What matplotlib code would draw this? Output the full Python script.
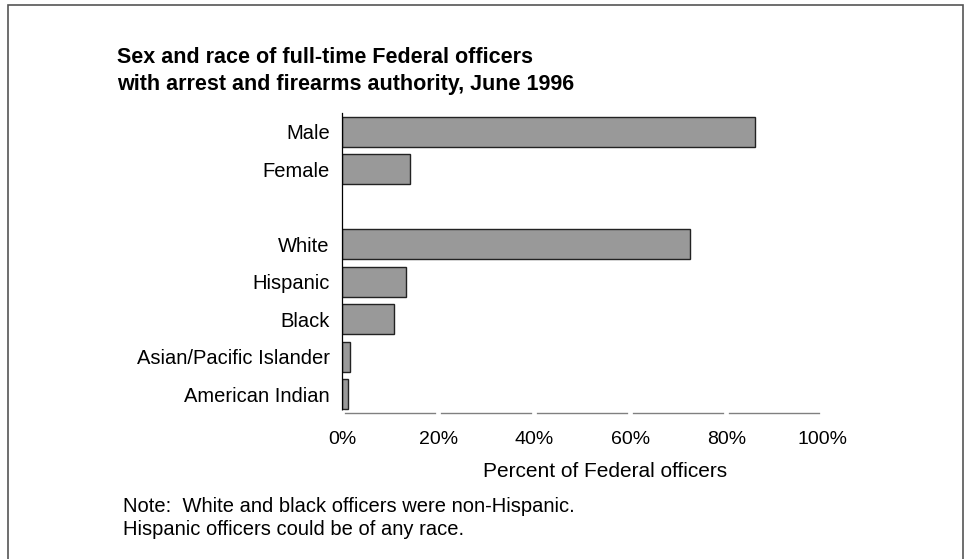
import matplotlib
matplotlib.use("Agg")
import matplotlib.pyplot as plt
from matplotlib.patches import Rectangle
from matplotlib.ticker import PercentFormatter

plt.rcParams["font.family"] = ["Liberation Sans", "DejaVu Sans"]

# values (percent of Federal officers)
sex_labels = ["Male", "Female"]
sex_values = [86.0, 14.0]
race_labels = ["White", "Hispanic", "Black", "Asian/Pacific Islander", "American Indian"]
race_values = [72.4, 13.3, 10.8, 1.7, 1.2]
x_ticks = [0, 20, 40, 60, 80, 100]

title_lines = [
    "Sex and race of full-time Federal officers",
    "with arrest and firearms authority, June 1996",
]
note_lines = [
    "Note:  White and black officers were non-Hispanic.",
    "Hispanic officers could be of any race.",
]

W, H = 969, 559
fig = plt.figure(figsize=(W / 100, H / 100), dpi=100)

# outer frame (bottom edge runs off the page, as in the original)
fig.patches.append(Rectangle((8 / W, -0.02), 955 / W, 1 - 5 / H + 0.02,
                             transform=fig.transFigure, fill=False,
                             edgecolor="#555555", linewidth=1.2))

ax = fig.add_axes([342.3 / W, 1 - 413 / H, 480 / W, 300 / H])

# one blank row between the sex block and the race block
labels = sex_labels + [""] + race_labels
values = sex_values + [0] + race_values
pos = list(range(len(labels)))
keep = [i for i, lab in enumerate(labels) if lab]
ax.barh([pos[i] for i in keep], [values[i] for i in keep], height=0.8,
        color="#999999", edgecolor="#222222", linewidth=1.0)

ax.set_ylim(len(labels) - 0.5, -0.5)
ax.set_xlim(0, 100)
ax.set_yticks(pos)
ax.set_yticklabels(labels)
ax.set_xticks(x_ticks)
ax.xaxis.set_major_formatter(PercentFormatter(decimals=0))

for s in ("top", "right"):
    ax.spines[s].set_visible(False)
ax.spines["left"].set_color("black")
ax.spines["left"].set_linewidth(0.9)
ax.spines["bottom"].set_color("#808080")
ax.spines["bottom"].set_linewidth(1.0)

# white tick marks break the baseline at each tick, like the original
ax.tick_params(axis="x", direction="inout", length=5, width=3.4,
               color="white", pad=10.5, labelsize=14)
ax.tick_params(axis="y", length=0, pad=9, labelsize=14.5)
ax.xaxis.set_zorder(3)

ax.set_xlabel("Percent of Federal officers", fontsize=15)
ax.xaxis.set_label_coords(0.547, -0.163)

for i, line in enumerate(title_lines):
    fig.text(117 / W, 1 - (63 + 27 * i) / H, line, fontsize=15.5,
             fontweight="bold", va="baseline", ha="left")

for i, line in enumerate(note_lines):
    fig.text(123 / W, 1 - (512 + 23 * i) / H, line, fontsize=14.5,
             va="baseline", ha="left")

fig.savefig("out.png", dpi=100)
